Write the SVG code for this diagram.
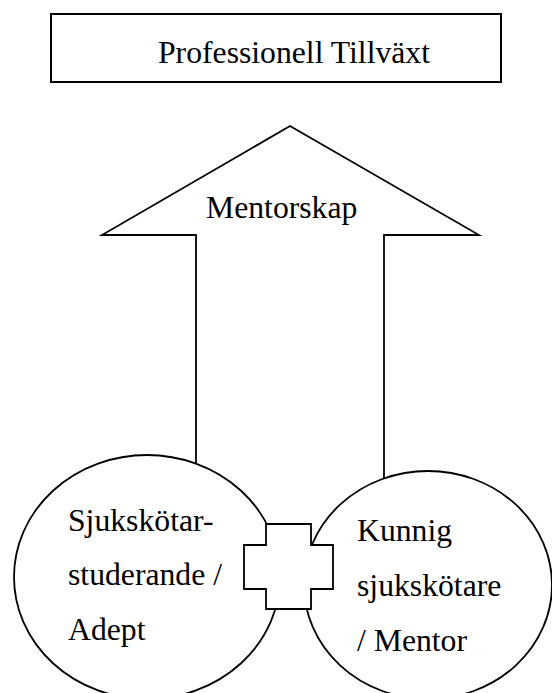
<svg xmlns="http://www.w3.org/2000/svg" width="552" height="693" viewBox="0 0 552 693">
<style>
.shape{fill:#fff;stroke:#000;stroke-width:1.8}
.line{fill:none;stroke:#000;stroke-width:1.8;stroke-linejoin:miter}
.lbl{font-family:"Liberation Serif","Times New Roman",serif;font-size:31.7px;fill:#000}
</style>
<rect width="552" height="693" fill="#fff"/>
<g id="professionell-tillvaxt">
<rect class="shape" x="51" y="14" width="450" height="68" style="stroke-width:2"/>
<text class="lbl" x="158" y="63">Professionell Tillväxt</text>
</g>
<g id="connectors">
<path class="line" d="M196,520 V235 H102 L290,126 L479,235 H384 V520"/>
<text class="lbl" x="206" y="218">Mentorskap</text>
</g>
<g id="adept">
<ellipse class="shape" cx="147" cy="577" rx="133" ry="122"/>
<text class="lbl" x="68" y="531">Sjukskötar-</text>
<text class="lbl" x="68" y="585">studerande /</text>
<text class="lbl" x="68" y="640">Adept</text>
</g>
<g id="mentor">
<ellipse class="shape" cx="428" cy="585" rx="124" ry="114"/>
<text class="lbl" x="357" y="541">Kunnig</text>
<text class="lbl" x="357" y="596">sjukskötare</text>
<text class="lbl" x="357" y="651">/ Mentor</text>
</g>
<g id="plus">
<polygon class="shape" points="266,524 311,524 311,545 333,545 333,589 311,589 311,609 266,609 266,589 244,589 244,545 266,545"/>
</g>
</svg>
